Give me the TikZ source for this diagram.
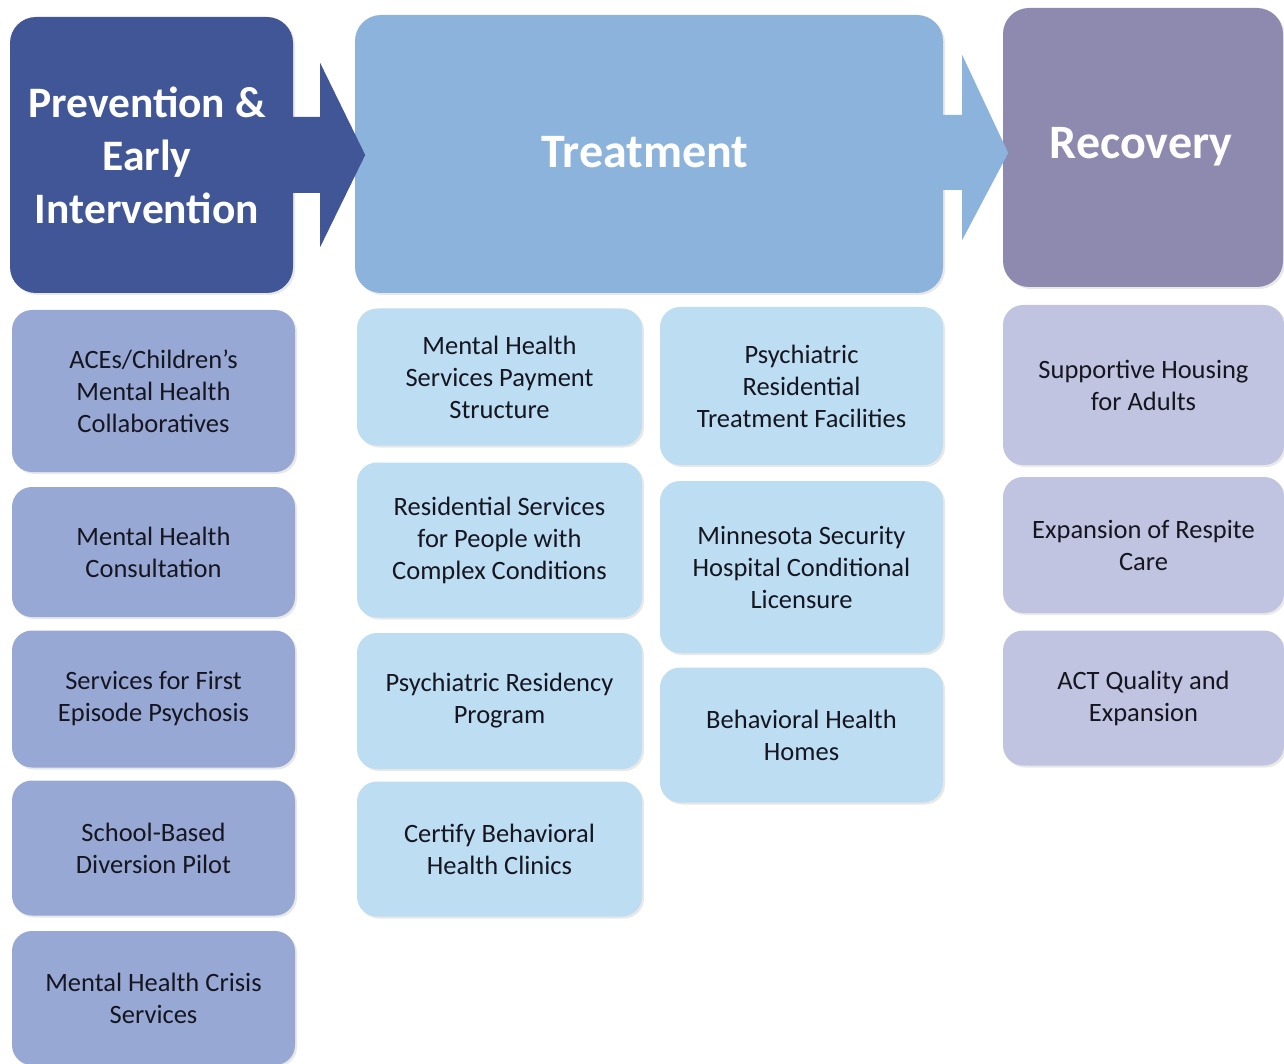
\documentclass[tikz,border=0pt]{standalone}
\usepackage{fontspec}
\setmainfont{Carlito}
\usetikzlibrary{calc,shadows}
\definecolor{prevH}{RGB}{64,86,150}
\definecolor{treatH}{RGB}{140,179,220}
\definecolor{recH}{RGB}{141,137,175}
\definecolor{prevI}{RGB}{152,168,213}
\definecolor{treatI}{RGB}{189,221,242}
\definecolor{recI}{RGB}{193,196,224}
\definecolor{txt}{RGB}{22,22,32}
\begin{document}
\begin{tikzpicture}[x=1pt,y=-1pt,
  hdr/.style={rounded corners=26pt, text=white, font=\fontsize{43.5}{53}\selectfont\bfseries, align=center, inner sep=0pt},
  bighdr/.style={hdr, font=\fontsize{48}{53}\selectfont\bfseries},
  item/.style={rounded corners=20pt, text=txt, font=\fontsize{26.5}{32}\selectfont, align=center, inner sep=0pt},
  shd/.style={drop shadow={opacity=0.18, shadow xshift=2pt, shadow yshift=-2pt}},
]
\useasboundingbox (0,0) rectangle (1284,1064);
\fill[white] (0,0) rectangle (1284,1064);

% headers
\node[hdr, shd, fill=prevH, minimum width=283pt, minimum height=276pt] (prev) at (151.5,155) {};
\node[hdr, shd, fill=treatH, minimum width=588pt, minimum height=278pt] (treat) at (649,154) {};
\node[hdr, shd, fill=recH, minimum width=280pt, minimum height=279pt] (rec) at (1143,147.5) {};

% block arrows
\fill[prevH] ($(prev.east)+(-8,-38)$) -- ($(prev.east)+(27,-38)$) -- ($(prev.east)+(27,-92)$)
  -- ($(prev.east)+(72,0)$) -- ($(prev.east)+(27,92)$) -- ($(prev.east)+(27,38)$)
  -- ($(prev.east)+(-8,38)$) -- cycle;
\fill[treatH] ($(treat.east)+(-8,-39)$) -- ($(treat.east)+(19,-39)$) -- ($(treat.east)+(19,-99)$)
  -- ($(treat.east)+(65,-1)$) -- ($(treat.east)+(19,86)$) -- ($(treat.east)+(19,36)$)
  -- ($(treat.east)+(-8,36)$) -- cycle;

% header labels
\node[hdr] (prevT) at (147,155) {Prevention \&\\Early\\Intervention};
\node[bighdr] (treatT) at (645,152) {Treatment};
\node[bighdr] (recT) at (1141,147) {Recovery};

% prevention items
\node[item, shd, fill=prevI, minimum width=283pt, minimum height=162pt] (p1) at (153.5,391) {ACEs/Children’s\\Mental Health\\Collaboratives};
\node[item, shd, fill=prevI, minimum width=283pt, minimum height=130pt] (p2) at (153.5,552) {Mental Health\\Consultation};
\node[item, shd, fill=prevI, minimum width=283pt, minimum height=137pt] (p3) at (153.5,699) {Services for First\\Episode Psychosis};
\node[item, shd, fill=prevI, minimum width=283pt, minimum height=135pt] (p4) at (153.5,848) {School-Based\\Diversion Pilot};
\node[item, shd, fill=prevI, minimum width=283pt, minimum height=134pt] (p5) at (153.5,998) {Mental Health Crisis\\Services};

% treatment items, column 1
\node[item, shd, fill=treatI, minimum width=285pt, minimum height=137pt] (t1) at (499.5,377) {Mental Health\\Services Payment\\Structure};
\node[item, shd, fill=treatI, minimum width=285pt, minimum height=155pt] (t2) at (499.5,540) {Residential Services\\for People with\\Complex Conditions};
\node[item, shd, fill=treatI, minimum width=285pt, minimum height=136pt] (t3) at (499.5,701) {Psychiatric Residency\\Program};
\node[item, shd, fill=treatI, minimum width=285pt, minimum height=135pt] (t4) at (499.5,849) {Certify Behavioral\\Health Clinics};

% treatment items, column 2
\node[item, shd, fill=treatI, minimum width=283pt, minimum height=158pt] (t5) at (801.5,386) {Psychiatric\\Residential\\Treatment Facilities};
\node[item, shd, fill=treatI, minimum width=283pt, minimum height=172pt] (t6) at (801.5,567) {Minnesota Security\\Hospital Conditional\\Licensure};
\node[item, shd, fill=treatI, minimum width=283pt, minimum height=135pt] (t7) at (801.5,735) {Behavioral Health\\Homes};

% recovery items
\node[item, shd, fill=recI, minimum width=281pt, minimum height=160pt] (r1) at (1143.5,385) {Supportive Housing\\for Adults};
\node[item, shd, fill=recI, minimum width=281pt, minimum height=136pt] (r2) at (1143.5,545) {Expansion of Respite\\Care};
\node[item, shd, fill=recI, minimum width=281pt, minimum height=135pt] (r3) at (1143.5,698) {ACT Quality and\\Expansion};
\end{tikzpicture}
\end{document}
